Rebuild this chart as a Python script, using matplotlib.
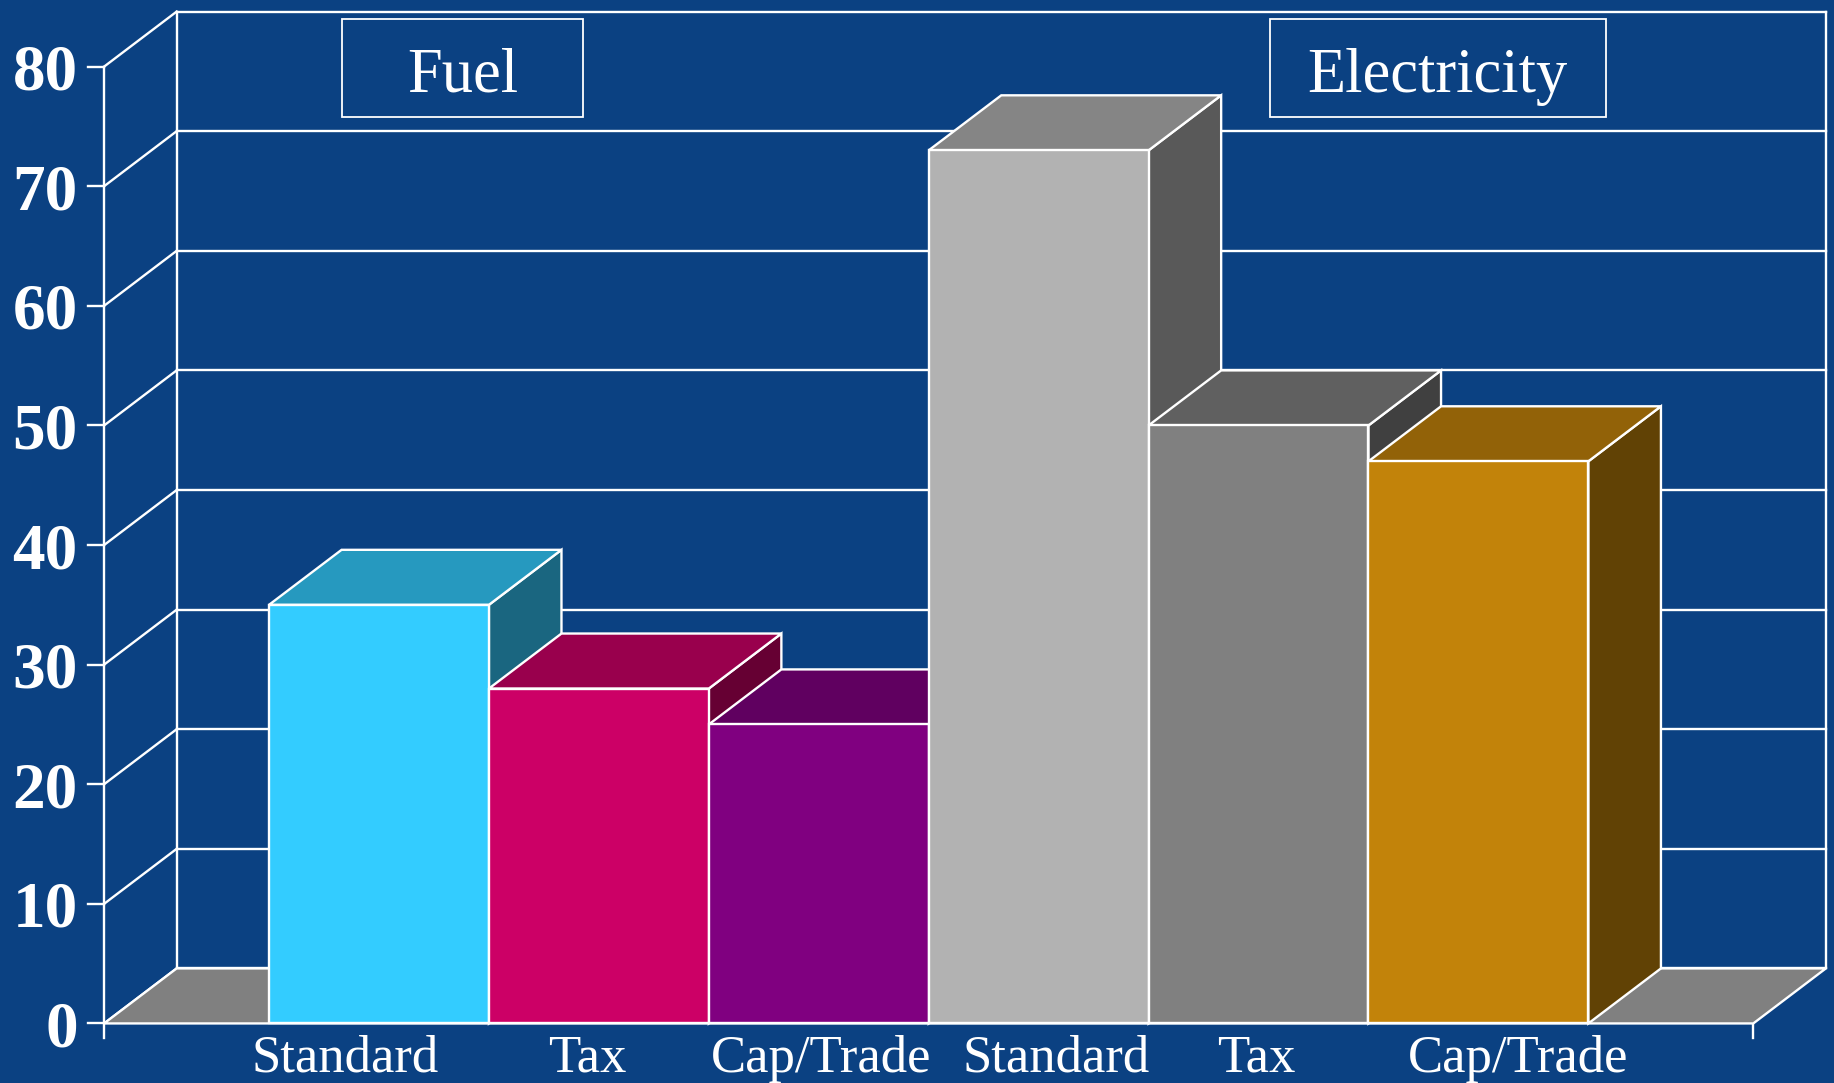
import matplotlib.pyplot as plt
from matplotlib.patches import Polygon, Rectangle
from matplotlib.colors import to_rgb

groups = ['Fuel', 'Electricity']
categories = ['Standard', 'Tax', 'Cap/Trade', 'Standard', 'Tax', 'Cap/Trade']
values = [35, 28, 25, 73, 50, 47]
colors = ['#33CCFF', '#CC0066', '#800080', '#B2B2B2', '#808080', '#C2830A']
yticks = [0, 10, 20, 30, 40, 50, 60, 70, 80]

BG = '#0B4182'
EDGE = 'white'
LW = 1.7
DX, DY = 0.33, 4.6      # depth of the 3d box (x units, value units)
X0 = 0.75               # left edge of the first bar
FLOOR_END = 7.5

plt.rcParams['font.family'] = ['Liberation Serif', 'DejaVu Serif']


def shade(c, f):
    return tuple(v * f for v in to_rgb(c))


fig = plt.figure(figsize=(18.34, 10.83), dpi=100, facecolor=BG)
ax = fig.add_axes([0, 0, 1, 1])
ax.set_xlim(-0.4734, 7.867)
ax.set_ylim(-4.98, 85.57)
ax.axis('off')

# walls / grid
for v in yticks:
    ax.plot([DX, FLOOR_END + DX], [v + DY, v + DY], color=EDGE, lw=LW, zorder=1)
    ax.plot([0, DX], [v, v + DY], color=EDGE, lw=LW, zorder=1)
    ax.plot([-0.073, 0], [v, v], color=EDGE, lw=LW, zorder=1)
    ax.text(-0.12, v, str(v), ha='right', va='center_baseline', color='white',
            fontsize=47, fontweight='bold')
ax.plot([DX, DX], [DY, yticks[-1] + DY], color=EDGE, lw=LW, zorder=1)
ax.plot([FLOOR_END + DX] * 2, [DY, yticks[-1] + DY], color=EDGE, lw=LW, zorder=1)
ax.plot([0, 0], [-1.25, yticks[-1]], color=EDGE, lw=LW, zorder=1)
ax.plot([FLOOR_END, FLOOR_END], [-1.25, 0], color=EDGE, lw=LW, zorder=1)

# floor
floor = Polygon([(0, 0), (FLOOR_END, 0), (FLOOR_END + DX, DY), (DX, DY)],
                closed=True, fc='#808080', ec=EDGE, lw=LW, zorder=2)
ax.add_patch(floor)

# bars, left to right so each one hides the side of the previous
for i, (v, c) in enumerate(zip(values, colors)):
    x = X0 + i
    z = 3 + i
    side = Polygon([(x + 1, 0), (x + 1 + DX, DY), (x + 1 + DX, v + DY), (x + 1, v)],
                   closed=True, fc=shade(c, 0.5), ec=EDGE, lw=LW, zorder=z)
    top = Polygon([(x, v), (x + 1, v), (x + 1 + DX, v + DY), (x + DX, v + DY)],
                  closed=True, fc=shade(c, 0.75), ec=EDGE, lw=LW, zorder=z)
    front = Rectangle((x, 0), 1, v, fc=c, ec=EDGE, lw=LW, zorder=z)
    ax.add_patch(side)
    ax.add_patch(top)
    ax.add_patch(front)

# category labels
label_x = [1.096, 2.197, 3.26, 4.33, 5.24, 6.43]
for lx, name in zip(label_x, categories):
    ax.text(lx, -2.95, name, ha='center', va='center', color='white', fontsize=38)

# group boxes
boxes = [(1.083, 2.179), (5.30, 6.83)]
for (bx0, bx1), g in zip(boxes, groups):
    ax.add_patch(Rectangle((bx0, 75.76), bx1 - bx0, 8.2, fill=False,
                           ec=EDGE, lw=1.3, zorder=10))
    ax.text((bx0 + bx1) / 2, 77.9, g, ha='center', va='baseline', color='white',
            fontsize=45, zorder=11)

fig.savefig('out.png', dpi=100, facecolor=BG)
